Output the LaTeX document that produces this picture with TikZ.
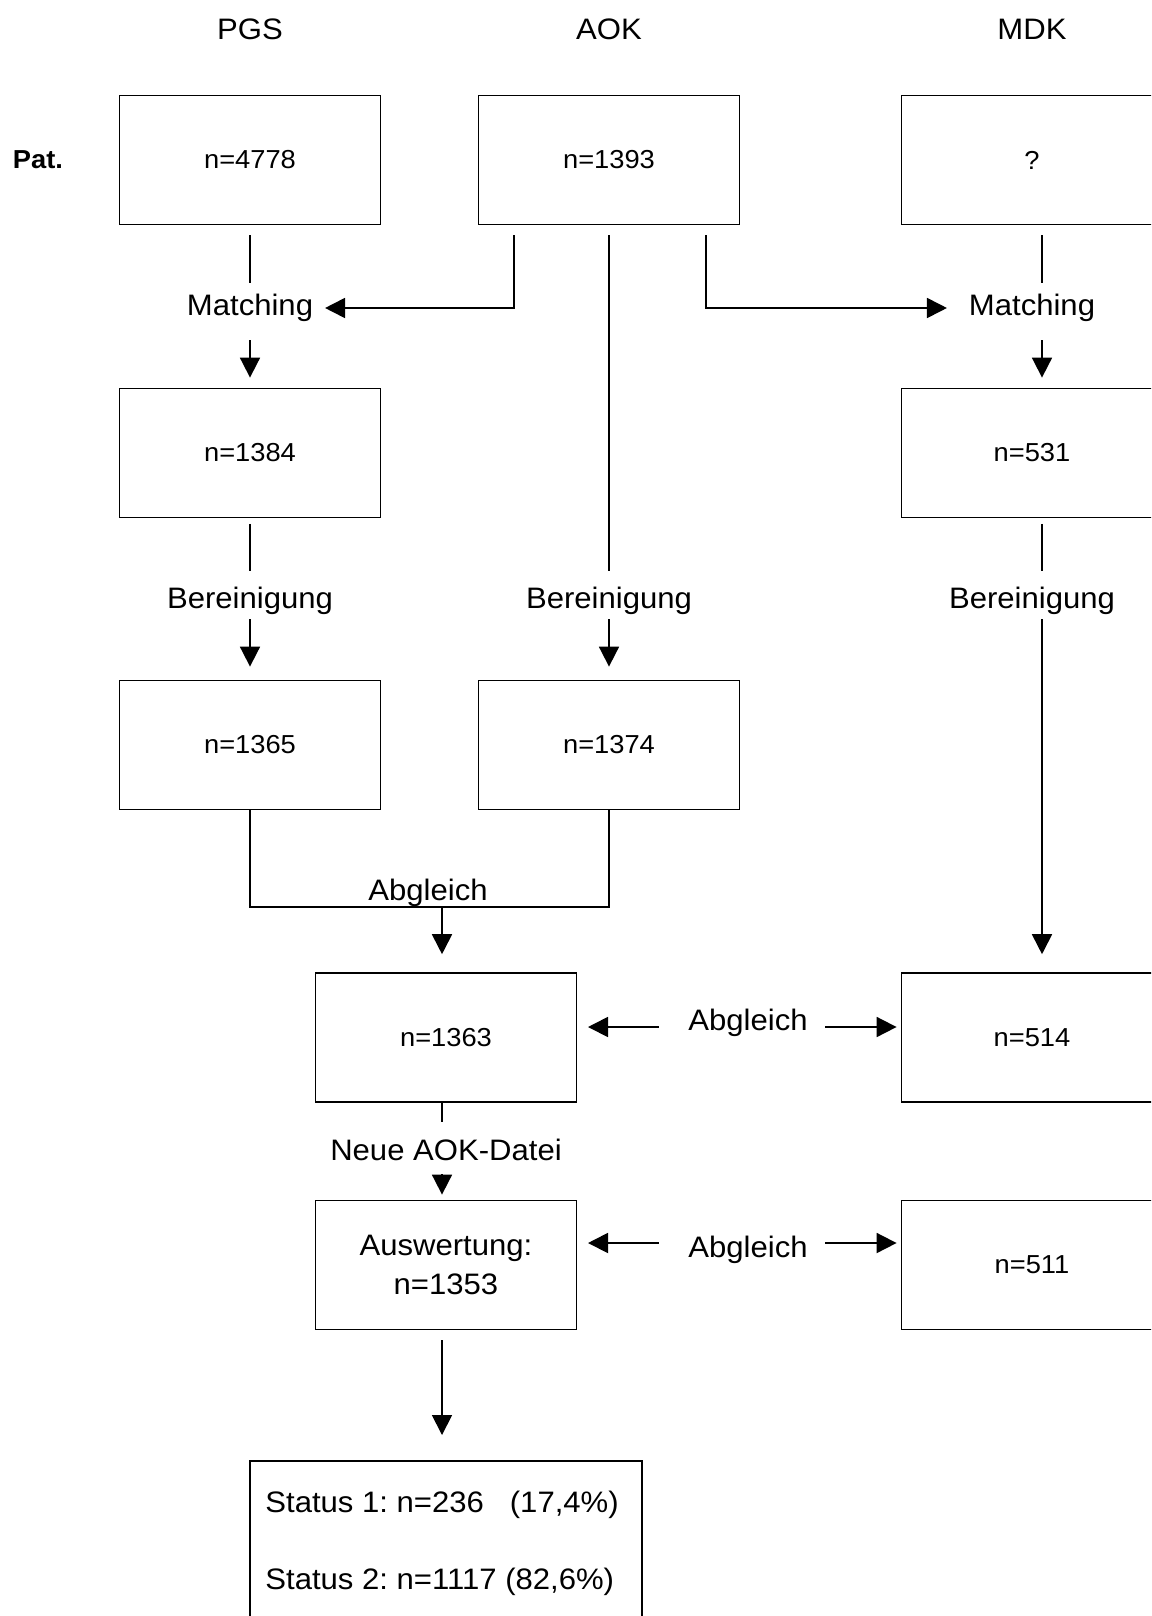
\documentclass[tikz,border=0pt]{standalone}
\usepackage{fontspec}
\setmainfont{Liberation Sans}[FakeStretch=1.05]
\usepackage{tikz}
\usetikzlibrary{arrows.meta,positioning}
\frenchspacing

\newcommand{\fntbig}{\fontsize{14.8pt}{19.5pt}\selectfont}
\newcommand{\fntsmall}{\fontsize{13pt}{15.5pt}\selectfont}

\begin{document}
\begin{tikzpicture}[
x=0.5pt,
y=-0.5pt,
every node/.style={font=\fntsmall,inner sep=0pt},
box/.style={rectangle,draw,line width=0.9pt,minimum width=130.5pt,minimum height=64.5pt,align=center},
lbl/.style={font=\fntbig},
wire/.style={line width=0.9pt},
arr/.style={-{Triangle[length=10pt,width=10pt]},line width=0.9pt}
]
\useasboundingbox (0,0) rectangle (1151,1616);
\clip (0,0) rectangle (1151,1616);

\node[lbl] (hpgs) at (250,29) {PGS};
\node[lbl] (haok) at (609,29) {AOK};
\node[lbl] (hmdk) at (1032,29) {MDK};
\node[font=\fntsmall\bfseries] (pat) at (38,160) {Pat.};

\node[box] (pgsA) at (250,160) {n=4778};
\node[box] (aokA) at (609,160) {n=1393};
\node[box] (mdkA) at (1032,160) {?};
\node[lbl] (mtL) at (250,308) {Matching};
\node[lbl] (mtR) at (1032,308) {Matching};
\node[box] (pgsB) at (250,453) {n=1384};
\node[box] (mdkB) at (1032,453) {n=531};
\node[lbl] (brL) at (250,601) {Bereinigung};
\node[lbl] (brM) at (609,601) {Bereinigung};
\node[lbl] (brR) at (1032,601) {Bereinigung};
\node[box] (pgsC) at (250,745) {n=1365};
\node[box] (aokC) at (609,745) {n=1374};
\coordinate (mrg) at (442,907);
\node[lbl] (abA) at (428,893) {Abgleich};
\node[box] (midD) at (446,1037.6) {n=1363};
\node[box] (mdkD) at (1032,1037.6) {n=514};
\node[lbl] (abB) at (748,1023) {Abgleich};
\coordinate (lk4) at (748,1027);
\node[lbl] (neu) at (446,1150) {Neue AOK-Datei};
\node[box,font=\fntbig] (auswE) at (446,1265) {Auswertung:\\n=1353};
\node[box] (mdkE) at (1032,1265) {n=511};
\node[lbl] (abC) at (748,1250) {Abgleich};
\coordinate (lk5) at (748,1243);
\node[box,anchor=north,minimum width=196.25pt,minimum height=100pt] (status) at (446,1460) {};
\node[lbl,anchor=base west] (st1) at (265,1512) {Status 1: n=236\ \ \ (17,4\%)};
\node[lbl,anchor=base west] (st2) at (265,1589) {Status 2: n=1117 (82,6\%)};

% Matching
\draw[wire,shorten <=5pt,shorten >=5.5pt] (pgsA) -- (mtL);
\draw[arr,shorten <=9pt,shorten >=5pt] (mtL) -- (pgsB);
\draw[arr,shorten >=5.8pt] ([shift={(-95,10)}]aokA.south) |- (mtL);
\draw[arr,shorten >=10.8pt] ([shift={(97,10)}]aokA.south) |- (mtR);
\draw[wire,shorten <=5pt,shorten >=5.5pt] ([xshift=5pt]mdkA.south) -- ([xshift=5pt]mtR.north);
\draw[arr,shorten <=9pt,shorten >=5pt] ([xshift=5pt]mtR.south) -- ([xshift=5pt]mdkB.north);

% Bereinigung
\draw[wire,shorten <=2.7pt,shorten >=8pt] (pgsB) -- (brL);
\draw[arr,shorten <=2pt,shorten >=6.5pt] (brL) -- (pgsC);
\draw[wire,shorten <=5pt,shorten >=8pt] (aokA) -- (brM);
\draw[arr,shorten <=2pt,shorten >=6.5pt] (brM) -- (aokC);
\draw[wire,shorten <=2.7pt,shorten >=8pt] ([xshift=5pt]mdkB.south) -- ([xshift=5pt]brR.north);
\draw[arr,shorten <=2pt,shorten >=9pt] ([xshift=5pt]brR.south) -- ([xshift=5pt]mdkD.north);

% Abgleich
\draw[wire] (pgsC.south) |- (mrg) -| (aokC.south);
\draw[arr,shorten >=9pt] (mrg) -- (mrg |- midD.north);
\draw[arr,shorten <=14.7pt,shorten >=5.3pt] (lk4 -| abB.west) -- (lk4 -| midD.east);
\draw[arr,shorten <=8.7pt,shorten >=2pt] (lk4 -| abB.east) -- (lk4 -| mdkD.west);
\draw[wire,shorten >=8.5pt] ([xshift=-2pt]midD.south) -- ([xshift=-2pt]neu.north);
\draw[arr,shorten <=6.5pt,shorten >=2.5pt] ([xshift=-2pt]neu.south) -- ([xshift=-2pt]auswE.north);
\draw[arr,shorten <=14.7pt,shorten >=5.3pt] (lk5 -| abC.west) -- (lk5 -| auswE.east);
\draw[arr,shorten <=8.7pt,shorten >=2pt] (lk5 -| abC.east) -- (lk5 -| mdkE.west);
\draw[arr,shorten <=5pt,shorten >=12.5pt] ([xshift=-2pt]auswE.south) -- ([xshift=-2pt]status.north);
\end{tikzpicture}
\end{document}
